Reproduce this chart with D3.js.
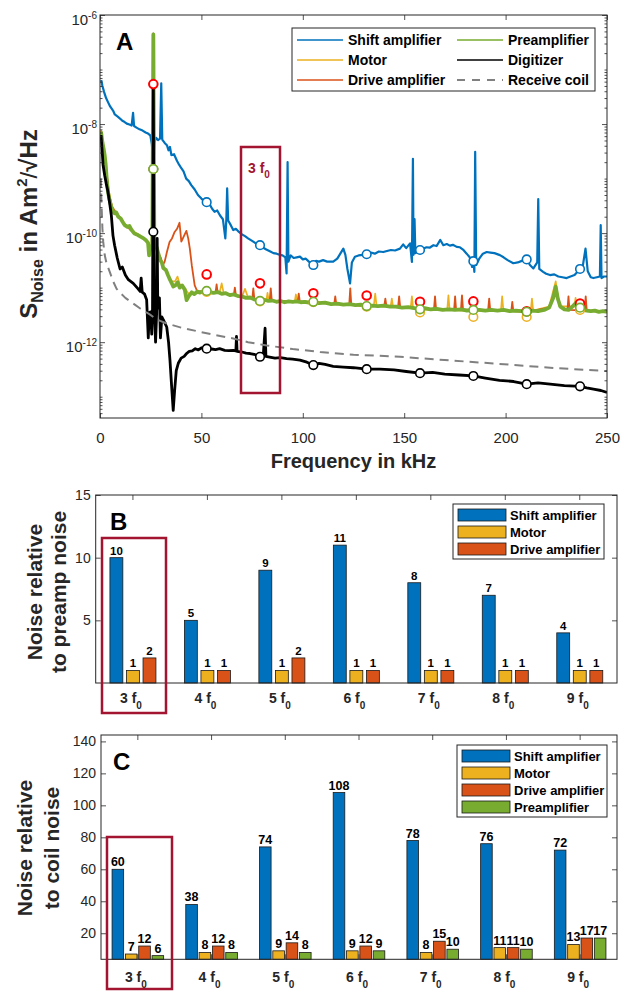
<!DOCTYPE html>
<html>
<head>
<meta charset="utf-8">
<script src="https://cdn.jsdelivr.net/npm/d3@7"></script>
<style>
body { margin: 0; background: #fff; }
svg { display: block; font-family: "Liberation Sans", Arial, Helvetica, sans-serif; }
</style>
</head>
<body>
<svg id="fig" width="627" height="992"></svg>
<script>
// ---- panel A: noise spectra, [frequency kHz, value Am^2/sqrt(Hz)] ----
var shiftAmp = [[0.6,6.4e-8],[1.2,5.0e-8],[2,3.9e-8],[3,3.0e-8],[4,2.5e-8],[5,2.1e-8],[5.6,1.95e-8],[6.5,1.75e-8],[7.3,1.5e-8],[8.9,1.35e-8],[10,1.25e-8],[11,1.15e-8],[12,1.1e-8],[13.2,1.02e-8],[14.5,9.8e-9],[15.6,9.4e-9],[16.3,1.6e-8],[16.8,9.2e-9],[18,8.6e-9],[19.5,8.0e-9],[21,7.6e-9],[22.5,7.0e-9],[23.7,6.7e-9],[24.8,6.2e-9],[25.6,4.2e-9],[26.3,1.5e-9],[26.9,4.6e-9],[27.6,5.6e-9],[28.6,5.1e-9],[29.6,5.4e-9],[30.2,5.6e-8],[30.7,5.2e-9],[31.9,4.5e-9],[33,4.1e-9],[33.8,3.3e-9],[34.5,3.8e-9],[35.2,2.7e-9],[36.5,2.8e-9],[38,2.1e-9],[39,1.8e-9],[40.1,1.55e-9],[41.2,1.35e-9],[42.5,1.0e-9],[43.8,9.0e-10],[45,7.6e-10],[46.7,6.3e-10],[48.3,5.0e-10],[50,4.3e-10],[51.6,3.8e-10],[52.6,3.7e-10],[54,3.4e-10],[55.3,2.8e-10],[56.5,2.45e-10],[57.8,2.6e-10],[59.2,2.1e-10],[60.6,1.8e-10],[61.8,8e-11],[62.3,1.8e-10],[62.7,6.6e-10],[63.2,1.7e-10],[64.5,1.4e-10],[65.7,1.14e-10],[67,1.2e-10],[68.5,1.05e-10],[70,9.5e-11],[71.5,8.8e-11],[73,8.0e-11],[75,7.2e-11],[76.5,6.6e-11],[78.9,6.0e-11],[80.5,5.4e-11],[82,5.0e-11],[84,4.6e-11],[85.5,4.3e-11],[87.1,4.2e-11],[88.5,4.0e-11],[90,3.9e-11],[91.4,3.6e-11],[92,1.82e-11],[92.5,2.0e-9],[92.9,3.0e-11],[94,3.9e-11],[95.5,3.5e-11],[97,3.6e-11],[98.6,3.7e-11],[100,3.3e-11],[101.5,3.4e-11],[103,3.0e-11],[104.9,2.6e-11],[106.5,3.1e-11],[108,3.0e-11],[110,3.2e-11],[112,3.0e-11],[115,3.0e-11],[117,3.4e-11],[118.5,4.2e-11],[120,5.2e-11],[121,4.0e-11],[122,2.2e-11],[123.3,1.2e-11],[124.2,2.9e-11],[125.7,3.7e-11],[127.5,3.9e-11],[129.5,4.0e-11],[131.5,4.1e-11],[133.5,4.4e-11],[135.5,4.2e-11],[137.5,4.6e-11],[139.7,4.5e-11],[141.5,4.7e-11],[143.5,4.9e-11],[145.5,4.8e-11],[147.9,5.2e-11],[149.5,6.2e-11],[151,5.3e-11],[152.9,6.5e-11],[153.8,2.97e-11],[154.3,2.3e-9],[154.6,4.0e-11],[155.1,1.8e-10],[155.5,4.3e-11],[157.8,4.9e-11],[159.5,5.2e-11],[161,5.5e-11],[162.5,5.4e-11],[164.4,6.0e-11],[166,5.8e-11],[167.8,7.5e-11],[169.3,6.0e-11],[171,6.3e-11],[172.5,5.9e-11],[174,6.1e-11],[175.9,5.6e-11],[177.5,5.5e-11],[179,5.0e-11],[180.8,4.2e-11],[182.3,3.6e-11],[183.5,2.4e-11],[184.1,3.06e-11],[184.6,1.95e-11],[185,3.1e-9],[185.5,2.6e-11],[187,3.4e-11],[188.8,4.2e-11],[190.7,4.5e-11],[192.5,4.4e-11],[194.5,4.3e-11],[197.2,3.95e-11],[199,3.6e-11],[201,3.2e-11],[203.8,2.8e-11],[206,2.9e-11],[208,3.1e-11],[210.4,3.3e-11],[212,2.6e-11],[213.7,2.25e-11],[215.6,2.9e-11],[216.1,4.2e-10],[216.6,2.2e-11],[218.5,1.95e-11],[220,1.8e-11],[221.9,1.7e-11],[224,1.75e-11],[226,1.6e-11],[228,1.55e-11],[230.1,1.5e-11],[232,1.6e-11],[234,1.7e-11],[236.7,2.2e-11],[238,2.4e-11],[239.4,5.2e-11],[240.5,2.0e-11],[242,1.55e-11],[243.3,1.5e-11],[245,1.55e-11],[246.5,1.6e-11],[246.9,1.4e-10],[247.3,1.5e-11],[248.5,1.6e-11],[250,1.6e-11]];

var motor = [[0.5,7.8e-9],[1.5,4.4e-9],[2.5,2.6e-9],[3.5,1.1e-9],[4.5,5.5e-10],[6,3.0e-10],[8,2.4e-10],[10,1.9e-10],[12.5,1.45e-10],[15,1.2e-10],[18,9.8e-11],[21,8.4e-11],[23.5,7.0e-11],[24.3,4.2e-11],[25.5,6.0e-11],[26.3,3.0e-7],[27,6.2e-11],[29,4.0e-11],[31,2.4e-11],[33,1.9e-11],[35,1.3e-11],[37,1.3e-11],[38.2,1.6e-11],[39.5,1.1e-11],[42,9.5e-12],[44,7.5e-12],[47,8.0e-12],[50,8.4e-12],[52.6,8.5e-12],[56,8.3e-12],[59,8.2e-12],[60,1.2e-11],[61,7.9e-12],[65,7.4e-12],[70,6.8e-12],[71.5,9.5e-12],[73,6.6e-12],[78.9,5.7e-12],[82,5.8e-12],[82.6,8e-12],[83.2,5.7e-12],[90,5.5e-12],[96,5.5e-12],[96.6,7.5e-12],[97.2,5.5e-12],[105.2,5.4e-12],[115,5.0e-12],[125,4.8e-12],[131.5,4.5e-12],[135,4.6e-12],[135.7,7.8e-12],[136.4,4.6e-12],[143.3,4.5e-12],[143.9,6.3e-12],[144.5,4.4e-12],[153.2,4.2e-12],[153.8,6.9e-12],[154.4,4.2e-12],[157.8,3.9e-12],[165,4.0e-12],[171.2,3.9e-12],[171.8,7.2e-12],[172.4,3.9e-12],[184.1,3.7e-12],[190,3.8e-12],[197.7,3.8e-12],[198.3,6.9e-12],[198.9,3.8e-12],[210.4,3.6e-12],[212.4,3.8e-12],[213,6.3e-12],[213.6,3.8e-12],[221.5,4.5e-12],[224.7,1.3e-11],[226.5,4.6e-12],[233.9,4.5e-12],[234.5,6.5e-12],[235.1,4.2e-12],[236.7,3.9e-12],[242,3.7e-12],[250,3.6e-12]];

var driveAmp = [[0.5,7.5e-9],[1.5,4.3e-9],[2.5,2.5e-9],[3.5,1.0e-9],[4.5,5.0e-10],[6,3.0e-10],[8,2.3e-10],[10,1.9e-10],[12.5,1.4e-10],[15,1.15e-10],[18,9.5e-11],[21,8.2e-11],[23.5,6.8e-11],[24.3,4.0e-11],[25.5,5.8e-11],[26.3,4.6e-7],[27,6.5e-11],[28.5,4.5e-11],[30,3.5e-11],[31,2.6e-11],[31.9,3.0e-11],[33,4.5e-11],[34.3,6.9e-11],[35.5,8.0e-11],[36.8,1.05e-10],[38,1.2e-10],[39.2,1.55e-10],[40.1,7.0e-11],[41.2,8.5e-11],[42.6,1.1e-10],[43.5,8.0e-11],[44.3,5.2e-11],[45.3,2.5e-11],[46.7,1.1e-11],[48,8.5e-12],[52.6,8.7e-12],[57,8.2e-12],[57.5,1.15e-11],[58,8.1e-12],[66,7.4e-12],[66.5,1.0e-11],[67,7.3e-12],[75.1,6.3e-12],[75.6,9.7e-12],[76.1,6.2e-12],[78.9,5.8e-12],[83.7,5.8e-12],[84.2,9.7e-12],[84.7,5.8e-12],[97.5,5.6e-12],[98,7.8e-12],[98.5,5.6e-12],[105.2,5.5e-12],[115.5,5.0e-12],[116,6.9e-12],[116.5,5.0e-12],[122.9,4.9e-12],[123.4,9.7e-12],[123.9,4.9e-12],[131.5,4.6e-12],[140.2,4.7e-12],[140.7,6.3e-12],[141.2,4.7e-12],[147,4.5e-12],[147.5,6.9e-12],[148,4.5e-12],[157.8,4.0e-12],[164.7,4.1e-12],[165.2,6.9e-12],[165.7,4.1e-12],[174.6,3.9e-12],[175.1,6.9e-12],[175.6,3.9e-12],[178,4.0e-12],[178.5,7.2e-12],[179,4.0e-12],[184.1,3.9e-12],[191.4,3.9e-12],[191.9,6.3e-12],[192.4,3.9e-12],[202.8,3.7e-12],[203.3,5.5e-12],[203.8,3.7e-12],[210.4,3.6e-12],[221.5,4.3e-12],[224.7,1.0e-11],[227,4.5e-12],[230.5,3.9e-12],[231,6.9e-12],[231.5,3.9e-12],[239,3.8e-12],[239.5,6.9e-12],[240,3.8e-12],[250,3.6e-12]];

var preamp = [[0.5,7.3e-9],[1.2,4.6e-9],[1.8,3.5e-9],[2.3,2.7e-9],[2.8,1.8e-9],[3.3,1.0e-9],[3.9,5.8e-10],[4.6,4.2e-10],[5.4,3.2e-10],[6.4,2.5e-10],[7.2,2.3e-10],[8,2.4e-10],[9,2.0e-10],[10.2,1.85e-10],[11.2,1.6e-10],[12.2,1.4e-10],[13.5,1.3e-10],[14.5,1.35e-10],[15.5,1.15e-10],[17,9.8e-11],[18.7,9.2e-11],[20,8.6e-11],[21.5,8.0e-11],[22.8,7.3e-11],[23.7,6.6e-11],[24.2,3.9e-11],[24.8,5.6e-11],[25.8,6.0e-11],[26.3,4.4e-7],[26.8,6.5e-11],[27.9,5.5e-11],[28.8,4.2e-11],[29.6,3.2e-11],[30.5,2.9e-11],[31.2,2.3e-11],[32.5,2.1e-11],[33.5,1.7e-11],[34.5,1.4e-11],[35.4,1.2e-11],[36.1,1.05e-11],[37.2,1.1e-11],[38.3,1.25e-11],[39.3,1.0e-11],[40.5,1.1e-11],[41.8,9.2e-12],[42.7,5.9e-12],[43.8,7.0e-12],[45.2,8.2e-12],[46.5,7.6e-12],[48,8.5e-12],[49.3,8.1e-12],[50.8,8.6e-12],[52.6,8.7e-12],[54,8.2e-12],[56,8.0e-12],[58,8.3e-12],[60,7.7e-12],[62,7.9e-12],[64,7.3e-12],[66,7.5e-12],[68,7.0e-12],[70,6.9e-12],[72,6.5e-12],[74,6.6e-12],[76,6.1e-12],[78.9,5.7e-12],[81,6.0e-12],[83,5.7e-12],[85,5.8e-12],[87,5.5e-12],[89,5.7e-12],[91,5.4e-12],[93,5.6e-12],[95,5.5e-12],[97,5.6e-12],[99,5.4e-12],[101,5.5e-12],[103,5.3e-12],[105.2,5.5e-12],[108,5.2e-12],[111,5.3e-12],[114,5.0e-12],[117,5.1e-12],[120,4.9e-12],[123,5.0e-12],[126,4.8e-12],[128.5,4.9e-12],[131.5,4.6e-12],[134,4.7e-12],[137,4.6e-12],[140,4.7e-12],[143,4.5e-12],[146,4.5e-12],[149,4.3e-12],[152,4.4e-12],[155,4.2e-12],[157.8,4.0e-12],[160,4.2e-12],[163,4.0e-12],[166,4.1e-12],[169,3.9e-12],[172,4.0e-12],[175,3.9e-12],[178,4.0e-12],[181,3.8e-12],[184.1,3.9e-12],[187,3.9e-12],[190,3.8e-12],[193,3.9e-12],[196,3.8e-12],[199,3.9e-12],[202,3.7e-12],[205,3.8e-12],[208,3.7e-12],[210.4,3.6e-12],[213,3.8e-12],[216,3.7e-12],[219,3.9e-12],[221.5,4.3e-12],[223.5,6.5e-12],[224.7,1.04e-11],[225.8,6.2e-12],[227,4.5e-12],[229,4.0e-12],[231,3.9e-12],[233,4.5e-12],[234.5,5.2e-12],[235.8,4.4e-12],[236.7,4.3e-12],[238,3.9e-12],[240,3.8e-12],[242,3.7e-12],[244,3.8e-12],[246,3.6e-12],[248,3.7e-12],[250,3.6e-12]];

var digitizer = [[0.5,6.3e-9],[1,3.5e-9],[1.5,1.8e-9],[2.3,1.15e-9],[3.1,8.0e-10],[3.9,5.8e-10],[4.8,3.5e-10],[5.6,2.1e-10],[6.4,9e-11],[7.2,6.0e-11],[8.5,3.5e-11],[9.9,2.2e-11],[11,2.4e-11],[12.5,1.7e-11],[14,1.4e-11],[16.4,1.2e-11],[18.7,9.6e-12],[19.8,8.5e-12],[20.3,1.5e-11],[20.8,8.3e-12],[22,7.6e-12],[23,6.0e-12],[23.8,1.2e-12],[24.3,3.5e-12],[25,3.6e-12],[25.5,1.4e-12],[25.9,4e-12],[26.3,4.4e-8],[26.7,5e-12],[27.4,1.0e-12],[27.9,3.2e-12],[28.2,8e-11],[28.5,4.2e-12],[29.3,6.5e-12],[29.8,1.2e-12],[30.5,2.9e-12],[31.2,2.6e-12],[32.9,1.9e-12],[33.8,1.0e-12],[34.5,4.7e-13],[35.3,1.6e-13],[36.1,5.6e-14],[36.8,1.3e-13],[37.6,3.0e-13],[38.6,4.1e-13],[40,5.1e-13],[41.5,5.5e-13],[42.7,6.2e-13],[44,6.8e-13],[45.5,6.9e-13],[47,7.6e-13],[48.5,7.2e-13],[50,7.9e-13],[52.6,7.6e-13],[55,7.5e-13],[57,7.3e-13],[59,7.6e-13],[61.5,7.1e-13],[63.5,7.0e-13],[65.7,7.1e-13],[67,6.9e-13],[67.3,1.27e-12],[67.6,6.8e-13],[70,6.6e-13],[72,6.3e-13],[74,6.2e-13],[76,6.0e-13],[78.9,5.4e-13],[80.5,5.6e-13],[81.4,1.8e-12],[81.8,5.5e-13],[83,5.4e-13],[86.3,5.1e-13],[89,5.2e-13],[92,5.0e-13],[95,4.9e-13],[98.6,4.7e-13],[102,4.3e-13],[105.2,3.8e-13],[108,4.1e-13],[111,3.9e-13],[115,3.6e-13],[120,3.5e-13],[125,3.4e-13],[131.5,3.2e-13],[138,3.2e-13],[145,3.1e-13],[151,2.9e-13],[157.8,2.7e-13],[164,2.8e-13],[170,2.6e-13],[177,2.5e-13],[184.1,2.4e-13],[190,2.2e-13],[197,2.0e-13],[204,1.9e-13],[210.4,1.7e-13],[216,1.8e-13],[222,1.7e-13],[229,1.6e-13],[236.7,1.55e-13],[240,1.45e-13],[244,1.36e-13],[247,1.3e-13],[250,1.2e-13]];

var receiveCoil = [[0.4,1.0e-9],[0.8,3.0e-10],[1.2,1.2e-10],[1.6,6.9e-11],[2.3,4.0e-11],[3.2,2.8e-11],[4.9,1.9e-11],[6.5,1.3e-11],[8.2,9.5e-12],[10,8.0e-12],[12.5,6.5e-12],[16.4,5.1e-12],[20,4.1e-12],[24.7,3.2e-12],[28,2.6e-12],[32.9,2.2e-12],[40,1.85e-12],[49.3,1.55e-12],[57,1.35e-12],[65.7,1.17e-12],[73,1.0e-12],[82.2,8.7e-13],[95,7.5e-13],[108.5,6.6e-13],[125,5.9e-13],[148,5.4e-13],[170,4.7e-13],[197,4.0e-13],[222,3.4e-13],[250,2.95e-13]];

// values at the harmonics n*f0 (circles)
var harmonicFreq = [26.3, 52.6, 78.9, 105.2, 131.5, 157.8, 184.1, 210.4, 236.7];
var shiftAtH = [1.5e-9, 3.7e-10, 6.0e-11, 2.6e-11, 4.1e-11, 4.9e-11, 3.06e-11, 3.3e-11, 2.2e-11];
var motorAtH = [1.5e-9, 8.4e-12, 5.6e-12, 5.4e-12, 4.5e-12, 3.5e-12, 2.9e-12, 2.9e-12, 3.9e-12];
var driveAtH = [5.4e-8, 1.75e-11, 1.2e-11, 7.9e-12, 7.2e-12, 5.5e-12, 5.6e-12, 3.7e-12, 5.1e-12];
var preampAtH = [1.5e-9, 8.7e-12, 5.7e-12, 5.5e-12, 4.6e-12, 4.0e-12, 3.9e-12, 3.6e-12, 4.3e-12];
var digitAtH = [1.06e-10, 7.6e-13, 5.4e-13, 3.8e-13, 3.2e-13, 2.7e-13, 2.4e-13, 1.7e-13, 1.55e-13];

var xTicksA = [0, 50, 100, 150, 200, 250];
var yDecadesA = [-12, -10, -8, -6];

// ---- panels B and C: ratios at harmonics ----
var harmonicNames = ["3", "4", "5", "6", "7", "8", "9"];
var preampRelShift = [10, 5, 9, 11, 8, 7, 4];
var preampRelMotor = [1, 1, 1, 1, 1, 1, 1];
var preampRelDrive = [2, 1, 2, 1, 1, 1, 1];
var coilRelShift = [60, 38, 74, 108, 78, 76, 72];
var coilRelMotor = [7, 8, 9, 9, 8, 11, 13];
var coilRelDrive = [12, 12, 14, 12, 15, 11, 17];
var coilRelPreamp = [6, 8, 8, 9, 10, 10, 17];
var yTicksB = [5, 10, 15];
var yTicksC = [20, 40, 60, 80, 100, 120, 140];

var axisColor = "#262626";
var darkRed = "#A2142F";
var blue = "#0072BD", yellow = "#EDB120", orange = "#D95319", green = "#77AC30";

var svg = d3.select("#fig");
svg.append("rect").attr("width", 627).attr("height", 992).attr("fill", "#fff");

// =================== Panel A ===================
var xA = d3.scaleLinear().domain([0, 250]).range([100, 607]);
var yA = d3.scaleLog().domain([4.07e-14, 1e-6]).range([418, 15]);

svg.append("defs").append("clipPath").attr("id", "clipA")
    .append("rect").attr("x", 100).attr("y", 15).attr("width", 507).attr("height", 403);

var lineA = d3.line()
    .x(function(d) { return xA(d[0]); })
    .y(function(d) { return yA(d[1]); });

var spectra = [
    { name: "Shift amplifier", data: shiftAmp, color: blue, w: 2.2 },
    { name: "Motor", data: motor, color: yellow, w: 1.7 },
    { name: "Drive amplifier", data: driveAmp, color: orange, w: 1.8 },
    { name: "Preamplifier", data: preamp, color: green, w: 3.8 },
    { name: "Digitizer", data: digitizer, color: "#000", w: 2.8 },
    { name: "Receive coil", data: receiveCoil, color: "#808080", w: 2, dash: "9,6" }
];

var plotA = svg.append("g").attr("clip-path", "url(#clipA)");
plotA.selectAll("path.spec")
    .data(spectra)
    .enter()
    .append("path")
    .attr("class", "spec")
    .attr("d", function(d) { return lineA(d.data); })
    .attr("fill", "none")
    .attr("stroke", function(d) { return d.color; })
    .attr("stroke-width", function(d) { return d.w; })
    .attr("stroke-dasharray", function(d) { return d.dash || null; })
    .attr("stroke-linejoin", "round");

// harmonic markers
var markerSets = [
    { vals: shiftAtH, color: blue, w: 1.6 },
    { vals: motorAtH, color: yellow, w: 1.6 },
    { vals: driveAtH, color: "#FF0000", w: 2 },
    { vals: preampAtH, color: green, w: 1.6 },
    { vals: digitAtH, color: "#000", w: 1.6 }
];
markerSets.forEach(function(set) {
    plotA.selectAll(null)
        .data(set.vals)
        .enter()
        .append("circle")
        .attr("cx", function(d, i) { return xA(harmonicFreq[i]); })
        .attr("cy", function(d) { return yA(d); })
        .attr("r", 4.3)
        .attr("fill", "#fff")
        .attr("stroke", set.color)
        .attr("stroke-width", set.w);
});

// axes A
function styleAxis(g) {
    g.select(".domain").remove();
    g.selectAll(".tick line").attr("stroke", axisColor).attr("stroke-width", 0.8);
    g.selectAll(".tick text").attr("fill", axisColor);
}

var minorA = [];
for (var e = -14; e <= -7; e++) {
    for (var m = 1; m <= 9; m++) {
        var v = m * Math.pow(10, e);
        if (v >= 4.07e-14 && v <= 1e-6 && !(m === 1 && yDecadesA.indexOf(e) >= 0)) minorA.push(v);
    }
}
var majorA = yDecadesA.map(function(e) { return Math.pow(10, e); });

svg.append("g").attr("transform", "translate(0,418)")
    .call(d3.axisBottom(xA).tickValues(xTicksA).tickSize(-5).tickPadding(14))
    .call(styleAxis)
    .selectAll("text").attr("font-size", 15);
svg.append("g").attr("transform", "translate(0,15)")
    .call(d3.axisTop(xA).tickValues(xTicksA).tickSize(-5).tickFormat(""))
    .call(styleAxis);

[[d3.axisLeft, 100], [d3.axisRight, 607]].forEach(function(a) {
    svg.append("g").attr("transform", "translate(" + a[1] + ",0)")
        .call(a[0](yA).tickValues(minorA).tickSize(-2.5).tickFormat(""))
        .call(styleAxis);
    var g = svg.append("g").attr("transform", "translate(" + a[1] + ",0)")
        .call(a[0](yA).tickValues(majorA).tickSize(-5).tickFormat(a[1] === 100 ? null : ""))
        .call(styleAxis);
    if (a[1] === 100) {
        g.selectAll(".tick text")
            .attr("x", -3).attr("dy", "0.6em").attr("font-size", 15)
            .text(null)
            .each(function(d) {
                var t = d3.select(this);
                t.append("tspan").text("10");
                t.append("tspan").attr("dy", -6).attr("font-size", 10)
                    .text(String(Math.round(Math.log10(d))));
            });
    }
});

svg.append("rect").attr("x", 100).attr("y", 15).attr("width", 507).attr("height", 403)
    .attr("fill", "none").attr("stroke", axisColor).attr("stroke-width", 1);

// axis labels A
svg.append("text").attr("x", 353.5).attr("y", 468).attr("text-anchor", "middle")
    .attr("font-size", 20).attr("font-weight", "bold").attr("fill", axisColor)
    .text("Frequency in kHz");

var yLabA = svg.append("text")
    .attr("transform", "translate(37,224) rotate(-90)")
    .attr("text-anchor", "middle").attr("font-size", 24).attr("font-weight", "bold")
    .attr("fill", axisColor);
yLabA.append("tspan").text("S");
yLabA.append("tspan").attr("font-size", 16).attr("dy", 6).text("Noise");
yLabA.append("tspan").attr("dy", -6).text(" in Am");
yLabA.append("tspan").attr("font-size", 15).attr("dy", -10).text("2");
yLabA.append("tspan").attr("dy", 10).attr("font-weight", "normal").text("/");
yLabA.append("tspan").text("\u221AHz");

svg.append("text").attr("x", 116).attr("y", 50).attr("font-size", 24)
    .attr("font-weight", "bold").text("A");

// legend A
var legA = svg.append("g");
legA.append("rect").attr("x", 292).attr("y", 28).attr("width", 303).attr("height", 63)
    .attr("fill", "#fff").attr("stroke", axisColor).attr("stroke-width", 1);
spectra.forEach(function(s, i) {
    var col = Math.floor(i / 3), row = i % 3;
    var x0 = col === 0 ? 297 : 457;
    var yy = 40 + row * 20;
    legA.append("line").attr("x1", x0).attr("x2", x0 + 46).attr("y1", yy).attr("y2", yy)
        .attr("stroke", s.color).attr("stroke-width", s.dash ? 2 : 1.4)
        .attr("stroke-dasharray", s.dash ? "8,7" : null);
    legA.append("text").attr("x", x0 + 51).attr("y", yy + 5).attr("font-size", 14)
        .attr("font-weight", "bold").text(s.name);
});

// 3 f0 box in A
svg.append("rect").attr("x", 241).attr("y", 147).attr("width", 39).attr("height", 246)
    .attr("fill", "none").attr("stroke", darkRed).attr("stroke-width", 2.5);
var boxLab = svg.append("text").attr("x", 248).attr("y", 173).attr("font-size", 14)
    .attr("font-weight", "bold").attr("fill", darkRed);
boxLab.append("tspan").text("3 f");
boxLab.append("tspan").attr("font-size", 10).attr("dy", 5).text("0");

// =================== bar panels ===================
function barPanel(opt) {
    var x = d3.scaleBand().domain(harmonicNames).range([opt.left, opt.right]);
    var y = d3.scaleLinear().domain(opt.yDomain).range([opt.bottom, opt.top]);
    var inner = d3.scaleBand().domain(d3.range(opt.series.length))
        .range([-opt.groupW / 2, opt.groupW / 2]).paddingInner(opt.pad);

    // axes ticks
    svg.append("g").attr("transform", "translate(0," + opt.bottom + ")")
        .call(d3.axisBottom(x).tickSize(-5).tickFormat(""))
        .call(styleAxis);
    svg.append("g").attr("transform", "translate(0," + opt.top + ")")
        .call(d3.axisTop(x).tickSize(-5).tickFormat(""))
        .call(styleAxis);
    svg.append("g").attr("transform", "translate(" + opt.left + ",0)")
        .call(d3.axisLeft(y).tickValues(opt.yTicks).tickSize(-5).tickPadding(5))
        .call(styleAxis)
        .selectAll("text").attr("font-size", 14);
    svg.append("g").attr("transform", "translate(" + opt.right + ",0)")
        .call(d3.axisRight(y).tickValues(opt.yTicks).tickSize(-5).tickFormat(""))
        .call(styleAxis);

    // bars + value labels
    opt.series.forEach(function(s, si) {
        svg.selectAll(null)
            .data(s.vals)
            .enter()
            .append("rect")
            .attr("x", function(d, i) { return x(harmonicNames[i]) + x.bandwidth() / 2 + inner(si); })
            .attr("y", function(d) { return y(d); })
            .attr("width", inner.bandwidth())
            .attr("height", function(d) { return opt.bottom - y(d); })
            .attr("fill", s.color)
            .attr("stroke", "#1a1a1a")
            .attr("stroke-width", 0.8);
        svg.selectAll(null)
            .data(s.vals)
            .enter()
            .append("text")
            .attr("x", function(d, i) { return x(harmonicNames[i]) + x.bandwidth() / 2 + inner(si) + inner.bandwidth() / 2; })
            .attr("y", function(d) { return y(d) - 3; })
            .attr("text-anchor", "middle")
            .attr("font-size", opt.valueFont)
            .attr("font-weight", "bold")
            .text(function(d) { return d; });
    });

    svg.append("rect").attr("x", opt.left).attr("y", opt.top)
        .attr("width", opt.right - opt.left).attr("height", opt.bottom - opt.top)
        .attr("fill", "none").attr("stroke", axisColor).attr("stroke-width", 1);

    // category labels n f0
    harmonicNames.forEach(function(n) {
        var t = svg.append("text")
            .attr("x", x(n) + x.bandwidth() / 2 - 2).attr("y", opt.bottom + opt.labelDy)
            .attr("text-anchor", "middle").attr("font-size", 14).attr("font-weight", "bold")
            .attr("fill", axisColor);
        t.append("tspan").text(n + " f");
        t.append("tspan").attr("font-size", 10).attr("dy", 6).text("0");
    });

    // y label (two lines)
    opt.yLabel.forEach(function(line, li) {
        svg.append("text")
            .attr("transform", "translate(" + opt.yLabelX[li] + "," + opt.yLabelY + ") rotate(-90)")
            .attr("text-anchor", "middle").attr("font-size", 21).attr("font-weight", "bold")
            .attr("fill", axisColor).text(line);
    });

    svg.append("text").attr("x", opt.letterX).attr("y", opt.letterY).attr("font-size", 24)
        .attr("font-weight", "bold").text(opt.letter);

    // legend
    var lg = svg.append("g");
    lg.append("rect").attr("x", opt.legX).attr("y", opt.legY).attr("width", opt.legW)
        .attr("height", opt.series.length * 17 + 4)
        .attr("fill", "#fff").attr("stroke", axisColor).attr("stroke-width", 1);
    opt.series.forEach(function(s, si) {
        var cy = opt.legY + 11 + si * 17;
        lg.append("rect").attr("x", opt.legX + 5).attr("y", cy - 6).attr("width", 48).attr("height", 12)
            .attr("fill", s.color).attr("stroke", "#1a1a1a").attr("stroke-width", 0.8);
        lg.append("text").attr("x", opt.legX + 57).attr("y", cy + 5).attr("font-size", 13)
            .attr("font-weight", "bold").text(s.name);
    });

    // highlight box around 3 f0
    svg.append("rect").attr("x", opt.box[0]).attr("y", opt.box[1])
        .attr("width", opt.box[2]).attr("height", opt.box[3])
        .attr("fill", "none").attr("stroke", darkRed).attr("stroke-width", 2.5);
}

barPanel({
    left: 95.7, right: 617, top: 495, bottom: 683, yDomain: [0, 15], yTicks: yTicksB,
    groupW: 46, pad: 0.22, valueFont: 11.5, labelDy: 20,
    series: [
        { name: "Shift amplifier", vals: preampRelShift, color: blue },
        { name: "Motor", vals: preampRelMotor, color: yellow },
        { name: "Drive amplifier", vals: preampRelDrive, color: orange }
    ],
    yLabel: ["Noise relative", "to preamp noise"], yLabelX: [42, 66], yLabelY: 592,
    letter: "B", letterX: 110, letterY: 530,
    legX: 453, legY: 504, legW: 151,
    box: [102, 538, 64, 175]
});

barPanel({
    left: 101, right: 617, top: 735, bottom: 959.3, yDomain: [3.7, 144], yTicks: yTicksC,
    groupW: 51.6, pad: 0.13, valueFont: 12.5, labelDy: 23,
    series: [
        { name: "Shift amplifier", vals: coilRelShift, color: blue },
        { name: "Motor", vals: coilRelMotor, color: yellow },
        { name: "Drive amplifier", vals: coilRelDrive, color: orange },
        { name: "Preamplifier", vals: coilRelPreamp, color: green }
    ],
    yLabel: ["Noise relative", "to coil noise"], yLabelX: [32, 59], yLabelY: 848,
    letter: "C", letterX: 113, letterY: 770,
    legX: 457, legY: 745, legW: 150,
    box: [107, 837, 65, 152]
});
</script>
</body>
</html>
